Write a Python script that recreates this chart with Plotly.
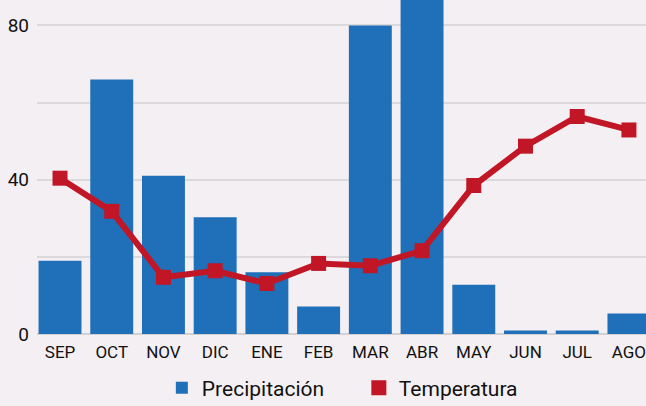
import plotly.graph_objects as go

months = ["SEP", "OCT", "NOV", "DIC", "ENE", "FEB", "MAR", "ABR", "MAY", "JUN", "JUL", "AGO"]
precipitacion = [19.0, 66.0, 41.0, 30.3, 16.0, 7.1, 80.0, 90.0, 12.8, 0.9, 0.9, 5.3]
temperatura = [40.4, 31.8, 14.7, 16.4, 13.1, 18.3, 17.7, 21.6, 38.5, 48.7, 56.4, 52.9]
y_tickvals = [0, 20, 40, 60, 80]
y_ticktext = ["0", "", "40", "", "80"]

FONT = "Roboto, sans-serif"
RED = "#c01626"

fig = go.Figure()
fig.add_trace(go.Bar(
    x=months, y=precipitacion, name="Precipitación",
    marker=dict(color="#1f70b8", line=dict(width=0)),
))
fig.add_trace(go.Scatter(
    x=months, y=temperatura, name="Temperatura",
    mode="lines", showlegend=False, legendgroup="t",
    line=dict(color=RED, width=6),
))
fig.add_trace(go.Scatter(
    x=months, y=temperatura, name="Temperatura",
    mode="markers", legendgroup="t",
    marker=dict(symbol="square", size=15, color=RED),
))

fig.update_layout(
    width=646, height=406,
    margin=dict(l=37, r=0, t=0, b=72),
    paper_bgcolor="#f4eff2",
    plot_bgcolor="#f4eff2",
    bargap=0.17,
    font=dict(family=FONT, color="#111111"),
    showlegend=True,
    legend=dict(
        orientation="h", x=0.205, xanchor="left",
        yref="container", y=0.044, yanchor="middle",
        font=dict(size=21, family=FONT), itemwidth=30,
        entrywidth=152, entrywidthmode="pixels",
        bgcolor="rgba(0,0,0,0)",
    ),
    xaxis=dict(
        range=[-0.445, 11.33],
        tickfont=dict(size=17),
        showgrid=False, showline=False, ticks="",
        ticklabelstandoff=6,
    ),
    yaxis=dict(
        range=[0, 86.6],
        tickvals=y_tickvals, ticktext=y_ticktext,
        tickfont=dict(size=19),
        showgrid=True, gridcolor="#dcd9dc", gridwidth=1.5,
        zeroline=True, zerolinecolor="#d3d0d3", zerolinewidth=2,
        ticks="", ticklabelstandoff=7,
    ),
)

fig.write_html(
    "out.html",
    config={"displayModeBar": False},
    post_script="document.body.style.margin='0';document.body.style.padding='0';",
)
